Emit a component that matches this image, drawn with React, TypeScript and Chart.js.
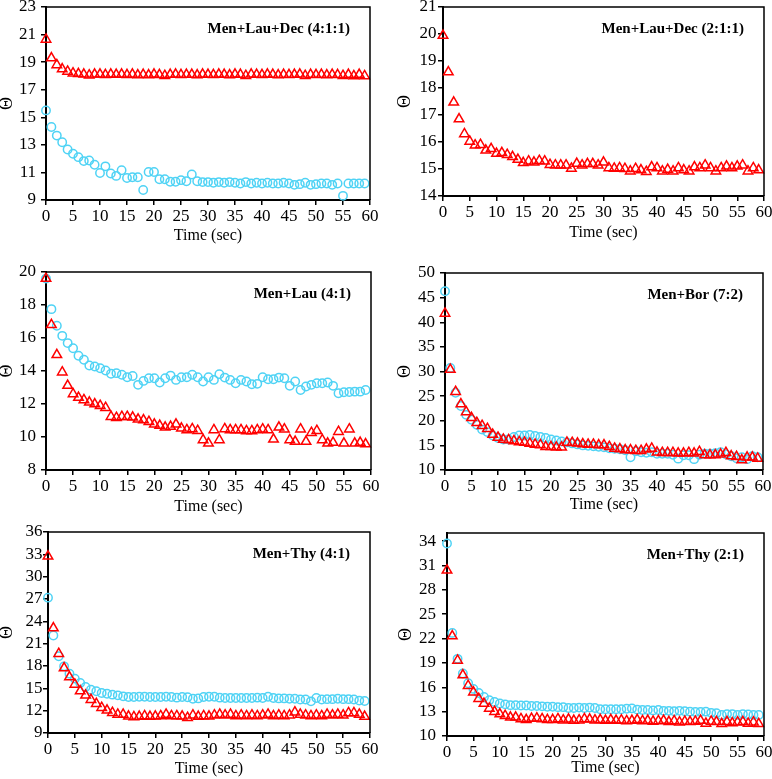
import { useEffect, useRef } from "react";
import { Chart, registerables } from "chart.js";

Chart.register(...registerables);

// ---------- data ----------
const TIME = [
  0, 1, 2, 3, 4, 5, 6, 7, 8, 9, 10, 11, 12, 13, 14, 15, 16, 17, 18, 19,
  20, 21, 22, 23, 24, 25, 26, 27, 28, 29, 30, 31, 32, 33, 34, 35, 36, 37, 38, 39,
  40, 41, 42, 43, 44, 45, 46, 47, 48, 49, 50, 51, 52, 53, 54, 55, 56, 57, 58, 59,
];
const X_TICKS = [0, 5, 10, 15, 20, 25, 30, 35, 40, 45, 50, 55, 60];

// Men+Lau+Dec (4:1:1)
const P1_TITLE = "Men+Lau+Dec (4:1:1)";
const P1_Y_TICKS = [9, 11, 13, 15, 17, 19, 21, 23];
const P1_RED = [
  20.65, 19.3, 18.8, 18.5, 18.33, 18.2, 18.15, 18.12, 18.05, 18.12,
  18.12, 18.08, 18.12, 18.1, 18.12, 18.08, 18.12, 18.06, 18.1, 18.06,
  18.12, 18.08, 18.02, 18.1, 18.12, 18.08, 18.1, 18.1, 18.06, 18.12,
  18.1, 18.08, 18.12, 18.1, 18.06, 18.12, 18.1, 18.02, 18.12, 18.1,
  18.08, 18.12, 18.1, 18.06, 18.1, 18.08, 18.1, 18.12, 18.02, 18.1,
  18.08, 18.1, 18.06, 18.1, 18.08, 18.02, 18.1, 18.0, 18.1, 18.0,
];
const P1_CYAN = [
  15.5, 14.3, 13.67, 13.19, 12.66, 12.35, 12.11, 11.82, 11.87, 11.56,
  10.96, 11.44, 10.92, 10.75, 11.16, 10.6, 10.65, 10.65, 9.72, 11.03,
  11.03, 10.5, 10.5, 10.32, 10.32, 10.44, 10.36, 10.85, 10.36, 10.3,
  10.3, 10.25, 10.3, 10.25, 10.3, 10.25, 10.2, 10.3, 10.2, 10.25,
  10.2, 10.25, 10.2, 10.2, 10.25, 10.2, 10.1, 10.15, 10.25, 10.1,
  10.15, 10.2, 10.2, 10.1, 10.2, 9.3, 10.2, 10.2, 10.2, 10.2,
];

// Men+Lau+Dec (2:1:1)
const P2_TITLE = "Men+Lau+Dec (2:1:1)";
const P2_Y_TICKS = [14, 15, 16, 17, 18, 19, 20, 21];
const P2_RED = [
  19.94, 18.59, 17.47, 16.85, 16.3, 16.02, 15.88, 15.9, 15.69, 15.75,
  15.57, 15.6, 15.53, 15.45, 15.35, 15.23, 15.29, 15.25, 15.31, 15.29,
  15.16, 15.14, 15.14, 15.14, 15.02, 15.2, 15.14, 15.19, 15.19, 15.14,
  15.25, 15.04, 15.02, 15.04, 15.01, 14.92, 15.01, 14.96, 14.9, 15.07,
  15.04, 14.92, 14.98, 14.92, 15.04, 14.96, 14.92, 15.07, 15.04, 15.14,
  15.04, 14.92, 15.04, 15.1, 15.04, 15.1, 15.14, 14.92, 15.04, 14.96,
];

// Men+Lau (4:1)
const P3_TITLE = "Men+Lau (4:1)";
const P3_Y_TICKS = [8, 10, 12, 14, 16, 18, 20];
const P3_RED = [
  19.6, 16.8, 14.98, 13.93, 13.12, 12.61, 12.39, 12.25, 12.1, 12.0,
  11.9, 11.78, 11.23, 11.17, 11.23, 11.23, 11.19, 11.07, 11.03, 10.93,
  10.77, 10.69, 10.59, 10.63, 10.77, 10.53, 10.43, 10.49, 10.38, 9.82,
  9.62, 10.43, 9.82, 10.49, 10.43, 10.43, 10.43, 10.37, 10.37, 10.43,
  10.47, 10.43, 9.86, 10.59, 10.47, 9.82, 9.72, 10.47, 9.72, 10.26,
  10.38, 9.82, 9.62, 9.66, 10.32, 9.62, 10.47, 9.62, 9.66, 9.57,
];
const P3_CYAN = [
  19.6, 17.75, 16.74, 16.13, 15.69, 15.38, 14.92, 14.68, 14.33, 14.27,
  14.17, 14.03, 13.83, 13.87, 13.77, 13.62, 13.7, 13.16, 13.4, 13.56,
  13.56, 13.3, 13.56, 13.72, 13.46, 13.62, 13.62, 13.77, 13.62, 13.36,
  13.62, 13.46, 13.81, 13.6, 13.46, 13.26, 13.46, 13.36, 13.2, 13.22,
  13.62, 13.5, 13.5, 13.6, 13.56, 13.1, 13.36, 12.85, 13.06, 13.16,
  13.26, 13.26, 13.3, 13.1, 12.65, 12.71, 12.73, 12.75, 12.75, 12.85,
];

// Men+Bor (7:2)
const P4_TITLE = "Men+Bor (7:2)";
const P4_Y_TICKS = [10, 15, 20, 25, 30, 35, 40, 45, 50];
const P4_RED = [
  41.8, 30.4, 25.9, 23.4, 21.8, 20.6, 19.6, 19.0, 18.4, 17.2,
  16.6, 16.2, 16.1, 15.9, 15.7, 15.6, 15.4, 15.2, 15.1, 14.7,
  14.7, 14.6, 14.6, 15.6, 15.54, 15.41, 15.27, 15.2, 15.2, 15.07,
  15.07, 14.73, 14.39, 14.26, 14.05, 14.05, 13.92, 13.92, 14.19, 14.39,
  13.58, 13.51, 13.51, 13.51, 13.38, 13.38, 13.51, 13.38, 13.72, 13.04,
  13.04, 13.04, 13.18, 13.51, 12.84, 12.7, 12.03, 12.57, 12.57, 12.36,
];
const P4_CYAN = [
  46.3, 30.7, 25.7, 23.0, 21.2, 20.2, 19.2, 18.2, 17.7, 17.0,
  16.5, 16.2, 16.2, 16.7, 17.0, 17.0, 17.1, 16.9, 16.7, 16.5,
  16.2, 16.0, 15.8, 15.6, 15.4, 15.2, 15.0, 14.9, 14.8, 14.7,
  14.6, 14.4, 14.3, 14.2, 14.0, 12.6, 13.8, 13.6, 13.5, 13.6,
  13.3, 13.3, 13.3, 13.1, 12.3, 13.0, 13.0, 12.2, 13.1, 13.3,
  13.3, 13.4, 13.6, 13.2, 12.8, 12.4, 12.6, 12.2, 12.8, 12.6,
];

// Men+Thy (4:1)
const P5_TITLE = "Men+Thy (4:1)";
const P5_Y_TICKS = [9, 12, 15, 18, 21, 24, 27, 30, 33, 36];
const P5_RED = [
  32.73, 23.1, 19.65, 17.73, 16.52, 15.53, 14.64, 14.06, 13.48, 12.94,
  12.4, 12.04, 11.73, 11.5, 11.5, 11.24, 11.15, 11.2, 11.3, 11.2,
  11.24, 11.3, 11.5, 11.3, 11.3, 11.24, 11.06, 11.4, 11.2, 11.3,
  11.24, 11.4, 11.5, 11.4, 11.5, 11.3, 11.4, 11.3, 11.4, 11.3,
  11.4, 11.5, 11.3, 11.4, 11.3, 11.4, 11.8, 11.5, 11.4, 11.3,
  11.4, 11.3, 11.5, 11.4, 11.5, 11.4, 11.7, 11.7, 11.5, 11.2,
];
const P5_CYAN = [
  27.18, 22.1, 19.3, 17.95, 16.97, 16.3, 15.71, 15.18, 14.82, 14.6,
  14.37, 14.28, 14.15, 14.06, 13.92, 13.83, 13.83, 13.87, 13.87, 13.83,
  13.83, 13.83, 13.87, 13.83, 13.75, 13.83, 13.8, 13.6, 13.65, 13.83,
  13.87, 13.87, 13.75, 13.7, 13.7, 13.7, 13.7, 13.7, 13.7, 13.75,
  13.7, 13.87, 13.7, 13.65, 13.65, 13.6, 13.6, 13.5, 13.5, 13.25,
  13.7, 13.5, 13.55, 13.55, 13.6, 13.55, 13.55, 13.5, 13.35, 13.3,
];

// Men+Thy (2:1)
const P6_TITLE = "Men+Thy (2:1)";
const P6_Y_TICKS = [10, 13, 16, 19, 22, 25, 28, 31, 34];
const P6_RED = [
  30.4, 22.3, 19.3, 17.5, 16.2, 15.4, 14.6, 14.0, 13.4, 13.0,
  12.7, 12.5, 12.3, 12.3, 12.1, 12.0, 12.15, 12.2, 12.1, 12.0,
  12.0, 12.1, 11.95, 12.05, 11.9, 11.95, 12.1, 12.05, 11.95, 12.0,
  11.9, 12.0, 11.9, 11.95, 11.85, 11.9, 12.0, 11.85, 11.9, 11.8,
  11.85, 11.9, 11.75, 11.85, 11.7, 11.8, 11.75, 11.8, 11.9, 11.55,
  11.8, 11.75, 11.5, 11.75, 11.6, 11.7, 11.75, 11.55, 11.7, 11.5,
];
const P6_CYAN = [
  33.7, 22.7, 19.5, 17.7, 16.5, 15.8, 15.3, 14.8, 14.4, 14.2,
  14.0, 13.9, 13.8, 13.8, 13.75, 13.75, 13.7, 13.7, 13.65, 13.6,
  13.6, 13.55, 13.55, 13.45, 13.45, 13.5, 13.45, 13.5, 13.45, 13.3,
  13.3, 13.3, 13.3, 13.3, 13.35, 13.4, 13.25, 13.2, 13.2, 13.15,
  13.2, 13.1, 13.1, 13.05, 13.1, 13.05, 13.0, 12.95, 12.95, 13.0,
  12.85, 12.8, 12.6, 12.7, 12.7, 12.6, 12.7, 12.65, 12.6, 12.6,
];

// ---------- styles ----------
const RED = "#FF0000";
const CYAN = "#4FD3F5";
const FONT = '"Liberation Serif", "Times New Roman", serif';
const TICK_SIZE = 17;

type PanelCfg = {
  title: string;
  red: number[];
  cyan?: number[];
  yTicks: number[];
  yMin: number;
  yMax: number;
  left: number;
  top: number;
  width: number;
  height: number;
  yW: number;
  xH: number;
  padT: number;
  padR: number;
  yLabelPad: number;
  yTitlePad: number;
  xTitlePad: number;
};

const PANELS: PanelCfg[] = [
  { title: P1_TITLE, red: P1_RED, cyan: P1_CYAN, yTicks: P1_Y_TICKS, yMin: 9, yMax: 23,
    left: 0, top: 0, width: 386, height: 250, yW: 46, xH: 50, padT: 5, padR: 16, yLabelPad: 5, yTitlePad: -1.5, xTitlePad: 6.5 },
  { title: P2_TITLE, red: P2_RED, yTicks: P2_Y_TICKS, yMin: 14, yMax: 21,
    left: 386, top: 0, width: 386, height: 250, yW: 57, xH: 54, padT: 5, padR: 8, yLabelPad: 1.5, yTitlePad: 10.5, xTitlePad: 9.5 },
  { title: P3_TITLE, red: P3_RED, cyan: P3_CYAN, yTicks: P3_Y_TICKS, yMin: 8, yMax: 20,
    left: 0, top: 250, width: 386, height: 265, yW: 46, xH: 45, padT: 22, padR: 15, yLabelPad: 5, yTitlePad: -1.5, xTitlePad: 0.5 },
  { title: P4_TITLE, red: P4_RED, cyan: P4_CYAN, yTicks: P4_Y_TICKS, yMin: 10, yMax: 50,
    left: 386, top: 250, width: 386, height: 265, yW: 59, xH: 45, padT: 23, padR: 9, yLabelPad: 5, yTitlePad: 10, xTitlePad: 2.5 },
  { title: P5_TITLE, red: P5_RED, cyan: P5_CYAN, yTicks: P5_Y_TICKS, yMin: 9, yMax: 36,
    left: 0, top: 515, width: 386, height: 264, yW: 48, xH: 46, padT: 17, padR: 16, yLabelPad: 0.5, yTitlePad: -1.5, xTitlePad: 2.5 },
  { title: P6_TITLE, red: P6_RED, cyan: P6_CYAN, yTicks: P6_Y_TICKS, yMin: 10, yMax: 35,
    left: 386, top: 515, width: 386, height: 264, yW: 61, xH: 43, padT: 18, padR: 8, yLabelPad: 6, yTitlePad: 11, xTitlePad: 3.5 },
];

function Panel({ cfg }: { cfg: PanelCfg }) {
  const ref = useRef<HTMLCanvasElement>(null);

  useEffect(() => {
    if (!ref.current) return;
    const datasets: any[] = [
      {
        label: "red",
        data: cfg.red.map((v, i) => ({ x: TIME[i], y: v })),
        pointStyle: "triangle",
        pointRadius: 5.5,
        pointBorderWidth: 1.5,
        pointBorderColor: RED,
        pointBackgroundColor: "rgba(0,0,0,0)",
        borderColor: RED,
        showLine: false,
        clip: false,
      },
    ];
    if (cfg.cyan) {
      datasets.push({
        label: "cyan",
        data: cfg.cyan.map((v, i) => ({ x: TIME[i], y: v })),
        pointStyle: "circle",
        pointRadius: 4.2,
        pointBorderWidth: 1.5,
        pointBorderColor: CYAN,
        pointBackgroundColor: "rgba(0,0,0,0)",
        borderColor: CYAN,
        showLine: false,
        clip: false,
      });
    }

    const deco = {
      id: "deco",
      afterDraw(chart: any) {
        const { ctx, chartArea: a } = chart;
        ctx.save();
        ctx.strokeStyle = "#000";
        ctx.lineWidth = 1.5;
        ctx.beginPath();
        ctx.moveTo(a.left, a.top);
        ctx.lineTo(a.right, a.top);
        ctx.lineTo(a.right, a.bottom);
        ctx.stroke();
        ctx.font = `bold 15px ${FONT}`;
        ctx.fillStyle = "#000";
        ctx.textAlign = "right";
        ctx.textBaseline = "middle";
        ctx.fillText(cfg.title, a.right - 20, a.top + 22);
        ctx.restore();
      },
    };

    const chart = new Chart(ref.current, {
      type: "scatter",
      data: { datasets },
      options: {
        animation: false,
        responsive: false,
        devicePixelRatio: 1,
        layout: { padding: { left: 0, top: cfg.padT, right: cfg.padR, bottom: 0 } },
        plugins: { legend: { display: false }, tooltip: { enabled: false } },
        scales: {
          x: {
            type: "linear",
            min: 0,
            max: 60,
            afterBuildTicks: (s: any) => {
              s.ticks = X_TICKS.map((v) => ({ value: v }));
            },
            afterFit: (s: any) => {
              s.height = cfg.xH;
              s.paddingLeft = 0;
              s.paddingRight = 0;
            },
            ticks: {
              font: { family: FONT, size: TICK_SIZE },
              color: "#000",
              padding: 1.5,
              autoSkip: false,
              maxRotation: 0,
            },
            grid: { drawOnChartArea: false, drawTicks: true, tickLength: 5, color: "#000", lineWidth: 1.5 },
            border: { display: true, color: "#000", width: 2 },
            title: {
              display: true,
              text: "Time (sec)",
              color: "#000",
              font: { family: FONT, size: 16, lineHeight: 1 },
              padding: { top: 0, bottom: cfg.xTitlePad },
            },
          },
          y: {
            type: "linear",
            min: cfg.yMin,
            max: cfg.yMax,
            afterBuildTicks: (s: any) => {
              s.ticks = cfg.yTicks.map((v) => ({ value: v }));
            },
            afterFit: (s: any) => {
              s.width = cfg.yW;
              s.paddingTop = 0;
              s.paddingBottom = 0;
            },
            ticks: {
              font: { family: FONT, size: TICK_SIZE },
              color: "#000",
              padding: cfg.yLabelPad,
              autoSkip: false,
            },
            grid: { drawOnChartArea: false, drawTicks: true, tickLength: 5, color: "#000", lineWidth: 1.5 },
            border: { display: true, color: "#000", width: 2 },
            title: {
              display: true,
              text: "Θ",
              color: "#000",
              font: { family: FONT, size: 18, lineHeight: 1 },
              padding: { top: cfg.yTitlePad, bottom: 0 },
            },
          },
        },
      } as any,
      plugins: [deco],
    });
    return () => chart.destroy();
  }, [cfg]);

  return (
    <canvas
      ref={ref}
      width={cfg.width}
      height={cfg.height}
      style={{ position: "absolute", left: cfg.left, top: cfg.top, width: cfg.width, height: cfg.height, display: "block" }}
    />
  );
}

export default function App() {
  return (
    <div style={{ position: "absolute", left: 0, top: 0, width: 772, height: 779, background: "#fff", overflow: "hidden" }}>
      {PANELS.map((p) => (
        <Panel key={p.title} cfg={p} />
      ))}
    </div>
  );
}
